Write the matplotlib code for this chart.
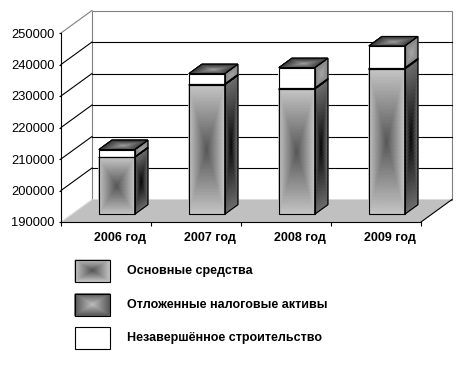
import matplotlib
matplotlib.use("Agg")
import matplotlib.pyplot as plt
import numpy as np
from matplotlib.colors import LinearSegmentedColormap
from matplotlib.patches import Polygon, Rectangle

# data
years = ["2006 год", "2007 год", "2008 год", "2009 год"]
osnovnye = [208050, 231100, 229750, 236100]   # Основные средства
ona = [150, 200, 250, 300]                    # Отложенные налоговые активы
nezav = [2300, 3300, 6500, 7000]              # Незавершённое строительство
series_names = ["Основные средства", "Отложенные налоговые активы",
                "Незавершённое строительство"]
yticks = [190000, 200000, 210000, 220000, 230000, 240000, 250000]

plt.rcParams['font.family'] = ['Liberation Sans', 'DejaVu Sans']

fig = plt.figure(figsize=(4.65, 3.65), dpi=100)
ax = fig.add_axes([61 / 465, (365 - 222) / 365, 360 / 465, 189 / 365])
ax.set_xlim(-0.5, 3.5)
ax.set_ylim(yticks[0], yticks[-1])
ax.patch.set_visible(False)

# depth of the 3d box, in data units
DX = 31 / 90
DY = 22.5 * (yticks[-1] - yticks[0]) / 189
F0, F1 = 0.35, 0.77   # front and back of the bars as part of depth
W = 0.4


def face(a_x, p0, a, b, c_center, c_edge, z=3, n=41, edge=True):
    p0, a, b = np.array(p0, float), np.array(a, float), np.array(b, float)
    u = np.linspace(0, 1, n)
    U, V = np.meshgrid(u, u)
    X = p0[0] + U * a[0] + V * b[0]
    Y = p0[1] + U * a[1] + V * b[1]
    T = np.maximum(np.abs(2 * U - 1), np.abs(2 * V - 1))
    cmap = LinearSegmentedColormap.from_list("g", [c_center, c_edge])
    a_x.pcolormesh(X, Y, T, cmap=cmap, vmin=0, vmax=1, shading='gouraud',
                   zorder=z, clip_on=False)
    if edge:
        pts = [p0, p0 + a, p0 + a + b, p0 + b]
        a_x.add_patch(Polygon(pts, closed=True, fill=False, edgecolor='black',
                              lw=0.8, zorder=z + 0.1, clip_on=False))


# floor
y0 = yticks[0]
ax.add_patch(Polygon([(-0.5, y0), (3.5, y0), (3.5 + DX, y0 + DY), (-0.5 + DX, y0 + DY)],
                     closed=True, facecolor='#c0c0c0', edgecolor='none',
                     zorder=1, clip_on=False))
ax.plot([3.5, 3.5 + DX], [y0, y0 + DY], color='black', lw=0.8, zorder=1.5, clip_on=False)
ax.plot([-0.5, -0.5 + DX], [y0, y0 + DY], color='#e0e0e0', lw=0.8, zorder=1.5, clip_on=False)

# walls and grid
for v in yticks[1:-1]:
    ax.plot([-0.5, -0.5 + DX], [v, v + DY], color='black', lw=0.8, zorder=1, clip_on=False)
    ax.plot([-0.5 + DX, 3.5 + DX], [v + DY, v + DY], color='black', lw=0.8, zorder=1,
            clip_on=False)
ax.plot([-0.5, -0.5 + DX], [yticks[-1], yticks[-1] + DY], color='#808080', lw=0.8,
        zorder=1, clip_on=False)
ax.add_patch(Rectangle((-0.5 + DX, y0 + DY), 4, yticks[-1] - y0, fill=False,
                       edgecolor='#808080', lw=0.8, zorder=0.9, clip_on=False))

# bars
front_cols = [('#585858', '#c6c6c6'), ('#c0c0c0', '#5a5a5a'), ('#ffffff', '#ffffff')]
side_cols = [('#0a0a0a', '#6e6e6e'), ('#303030', '#606060'), ('#a8a8a8', '#858585')]
top_cols = ('#a0a0a0', '#3c3c3c')
ddx, ddy = (F1 - F0) * DX, (F1 - F0) * DY

for i in range(len(years)):
    vals = [osnovnye[i] - y0, ona[i], nezav[i]]
    bottom = y0
    for k, h in enumerate(vals):
        xl = i - W / 2 + F0 * DX
        yb = bottom + F0 * DY
        face(ax, (xl, yb), (W, 0), (0, h), *front_cols[k])
        face(ax, (xl + W, yb), (ddx, ddy), (0, h), *side_cols[k])
        bottom += h
    face(ax, (i - W / 2 + F0 * DX, bottom + F0 * DY), (W, 0), (ddx, ddy), *top_cols)

# axes
for s in ['top', 'right']:
    ax.spines[s].set_visible(False)
for s in ['left', 'bottom']:
    ax.spines[s].set_linewidth(0.8)
    ax.spines[s].set_zorder(2)
ax.set_yticks(yticks)
ax.set_yticklabels([str(v) for v in yticks])
ax.tick_params(axis='y', length=1.5, pad=3, labelsize=9.3, width=0.8)
ax.set_xticks(np.arange(len(years)) + 0.15)
ax.set_xticklabels(years, fontsize=9, fontweight='bold')
ax.tick_params(axis='x', which='major', length=0, pad=7)
ax.set_xticks(np.arange(-0.5, len(years)), minor=True)
ax.tick_params(axis='x', which='minor', length=3, width=0.8, direction='out')

# legend
lax = fig.add_axes([0, 0, 1, 1])
lax.set_xlim(0, 465)
lax.set_ylim(365, 0)
lax.axis('off')
leg_y = [260, 294, 327]
leg_cols = [('#585858', '#c6c6c6'), ('#c0c0c0', '#5a5a5a'), ('#ffffff', '#ffffff')]
for k, name in enumerate(series_names):
    face(lax, (75, leg_y[k]), (35, 0), (0, 22), *leg_cols[k])
    lax.text(127, leg_y[k] + 11, name, fontsize=9, fontweight='bold', va='center', ha='left')

fig.savefig("out.png", dpi=100)
